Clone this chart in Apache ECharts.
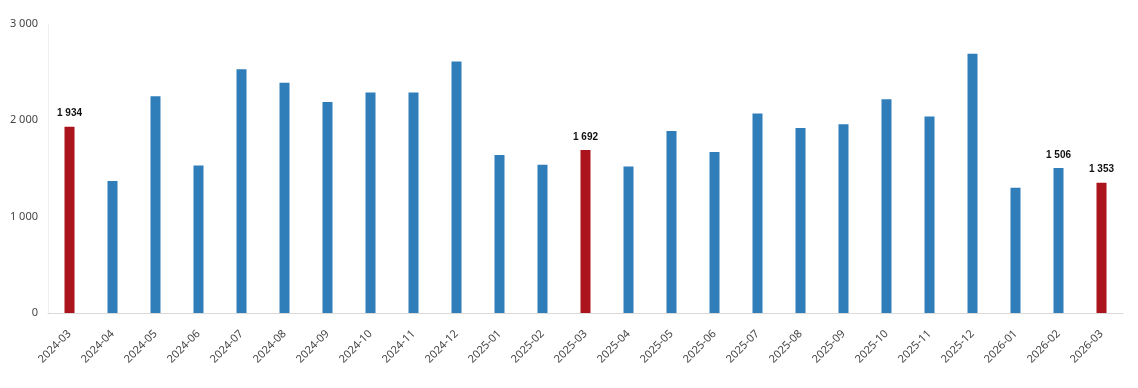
<!DOCTYPE html>
<html><head><meta charset="utf-8">
<script src="https://cdn.jsdelivr.net/npm/echarts@6/dist/echarts.min.js"></script>
<style>html,body{margin:0;padding:0;background:#fff}#c{width:1138px;height:388px}</style>
</head><body><div id="c"></div>
<script>
const categories = ["2024-03","2024-04","2024-05","2024-06","2024-07","2024-08","2024-09","2024-10","2024-11","2024-12","2025-01","2025-02","2025-03","2025-04","2025-05","2025-06","2025-07","2025-08","2025-09","2025-10","2025-11","2025-12","2026-01","2026-02","2026-03"];
const values = [1934,1370,2250,1530,2530,2390,2190,2290,2290,2610,1640,1540,1692,1520,1890,1670,2070,1920,1960,2220,2040,2690,1300,1506,1353];
const highlighted = ["2024-03","2025-03","2026-03"];
const labelled = ["2024-03","2025-03","2026-02","2026-03"];
const yTicks = [0,1000,2000,3000];

const fmt = v => String(v).replace(/\B(?=(\d{3})+(?!\d))/g, ' ');
const BLUE = '#2f7eb9', RED = '#ab141c';

const data = values.map((v,i) => ({
  value: v,
  itemStyle: { color: highlighted.includes(categories[i]) ? RED : BLUE },
  label: { show: labelled.includes(categories[i]) }
}));

const chart = echarts.init(document.getElementById('c'));
chart.setOption({
  animation: false,
  grid: { left: 48, right: 15, top: 24, bottom: 75, containLabel: false },
  xAxis: {
    type: 'category', data: categories,
    axisLine: { lineStyle: { color: '#d9d9d9' } },
    axisTick: { show: false },
    axisLabel: { rotate: 45, color: '#444', fontSize: 11, fontFamily: 'Noto Sans', margin: 19, interval: 0 }
  },
  yAxis: {
    type: 'value', min: yTicks[0], max: yTicks[yTicks.length-1], interval: 1000,
    axisLine: { show: true, lineStyle: { color: '#f0f0f0' } },
    axisTick: { show: false },
    splitLine: { show: false },
    axisLabel: { color: '#444', fontSize: 11, fontFamily: 'Noto Sans', margin: 10, formatter: v => fmt(v) }
  },
  series: [{
    type: 'bar', data: data, barWidth: 10,
    label: { position: 'top', distance: 8, color: '#111', fontWeight: 'bold', fontSize: 10, fontFamily: 'Liberation Sans', formatter: p => fmt(p.value) }
  }]
});
</script></body></html>
